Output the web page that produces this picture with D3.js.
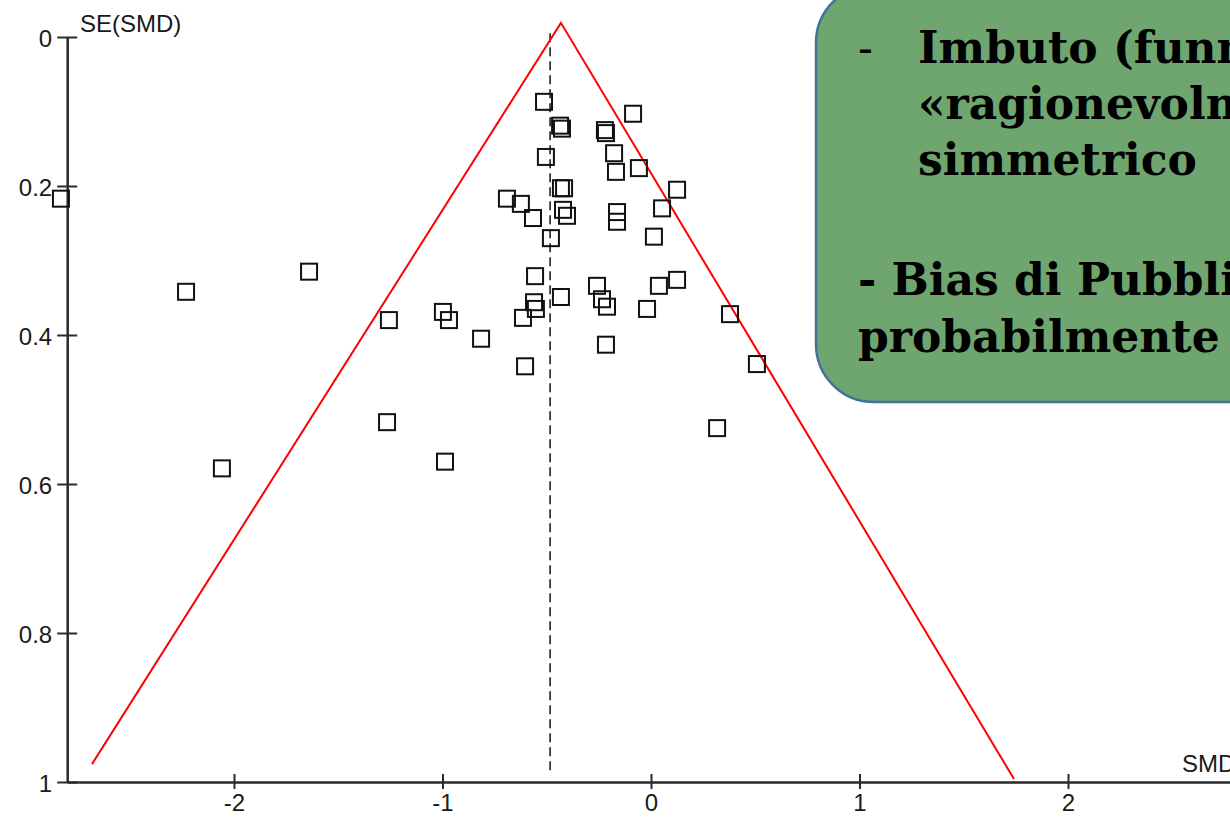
<!DOCTYPE html>
<html>
<head>
<meta charset="utf-8">
<script src="https://cdn.jsdelivr.net/npm/d3@7"></script>
<style>
  html, body { margin: 0; padding: 0; background: #fff; overflow: hidden; }
  svg { display: block; }
</style>
</head>
<body>
<div id="my_dataviz"></div>
<script>
// Studies: standardized mean difference and its standard error
var smd = [-2.830, -2.230, -1.640, -1.257, -0.998, -0.969, -0.815, -1.266, -0.988, -2.058,
           -0.513, -0.436, -0.427, -0.504, -0.432, -0.417, -0.691, -0.624, -0.566, -0.422,
           -0.403, -0.480, -0.086, -0.221, -0.216, -0.177, -0.168, -0.058, 0.125, 0.053,
           -0.163, -0.163, 0.014, -0.556, -0.432, -0.561, -0.552, -0.614, -0.259, -0.235,
           -0.211, -0.019, 0.038, 0.125, 0.379, -0.216, -0.604, 0.508, 0.317];
var se  = [0.217, 0.342, 0.315, 0.380, 0.369, 0.380, 0.405, 0.517, 0.570, 0.579,
           0.087, 0.119, 0.123, 0.161, 0.203, 0.203, 0.217, 0.224, 0.243, 0.232,
           0.240, 0.270, 0.103, 0.125, 0.129, 0.156, 0.181, 0.176, 0.205, 0.230,
           0.235, 0.248, 0.268, 0.321, 0.349, 0.356, 0.365, 0.377, 0.334, 0.352,
           0.362, 0.365, 0.334, 0.326, 0.372, 0.413, 0.442, 0.439, 0.525];

// pooled estimate (dashed line) and the hand-drawn funnel
var pooled = -0.484;
var funnelX = [-2.681, -0.432, 1.741];
var funnelY = [0.976, -0.019, 0.996];

var xTicks = [-2, -1, 0, 1, 2];
var yTicks = [0, 0.2, 0.4, 0.6, 0.8, 1];

var noteLines = ["Imbuto (funnel)", "«ragionevolmente»", "simmetrico"];
var noteLines2 = ["- Bias di Pubblicazione", "probabilmente assente"];

var width = 1230, height = 817;

var svg = d3.select("#my_dataviz")
  .append("svg")
    .attr("width", width)
    .attr("height", height);

var x = d3.scaleLinear().domain([-2.8, 2.8]).range([67.2, 1234.8]);
var y = d3.scaleLinear().domain([0, 1]).range([37, 782]);

var axisColor = "#2a2a2a";
var labelFont = "'Liberation Sans', Arial, sans-serif";

// X axis (at SE = 1)
var gx = svg.append("g")
  .attr("transform", "translate(0," + y(1) + ")")
  .call(d3.axisBottom(x).tickValues(xTicks).tickFormat(function(d) { return String(d); })
    .tickSizeInner(7).tickSizeOuter(0).tickPadding(5));
gx.select(".domain").attr("stroke", axisColor).attr("stroke-width", 2.5);
gx.selectAll(".tick line").attr("y1", -8).attr("stroke", axisColor).attr("stroke-width", 2);
gx.selectAll(".tick text")
  .style("font-family", labelFont).style("font-size", "24px").attr("fill", "#1a1a1a");

// Y axis
var gy = svg.append("g")
  .attr("transform", "translate(" + x(-2.8) + ",0)")
  .call(d3.axisLeft(y).tickValues(yTicks).tickFormat(function(d) { return String(d); })
    .tickSizeInner(10).tickSizeOuter(0).tickPadding(5));
gy.select(".domain").attr("stroke", axisColor).attr("stroke-width", 2.5);
gy.selectAll(".tick line").attr("x1", 10).attr("stroke", axisColor).attr("stroke-width", 2);
gy.selectAll(".tick text")
  .attr("dy", "0.4em")
  .style("font-family", labelFont).style("font-size", "24px").attr("fill", "#1a1a1a");

// axis titles
svg.append("text")
  .attr("x", 80).attr("y", 32)
  .style("font-family", labelFont).style("font-size", "24px").attr("fill", "#1a1a1a")
  .text("SE(SMD)");
svg.append("text")
  .attr("x", 1182).attr("y", 772)
  .style("font-family", labelFont).style("font-size", "24px").attr("fill", "#1a1a1a")
  .text("SMD");

// dashed line at the pooled estimate
svg.append("line")
  .attr("x1", x(pooled)).attr("x2", x(pooled))
  .attr("y1", y(-0.005)).attr("y2", y(0.99))
  .attr("stroke", "#111").attr("stroke-width", 1.5)
  .attr("stroke-dasharray", "9,5");

// red funnel
var funnel = d3.line()
  .x(function(d) { return x(d[0]); })
  .y(function(d) { return y(d[1]); });
svg.append("path")
  .datum(d3.zip(funnelX, funnelY))
  .attr("d", funnel)
  .attr("fill", "none")
  .attr("stroke", "#ff0000")
  .attr("stroke-width", 2);

// studies as open squares
var sq = 16;
svg.append("g")
  .selectAll("rect")
  .data(d3.zip(smd, se))
  .enter().append("rect")
    .attr("x", function(d) { return x(d[0]) - sq / 2; })
    .attr("y", function(d) { return y(d[1]) - sq / 2; })
    .attr("width", sq)
    .attr("height", sq)
    .attr("fill", "none")
    .attr("stroke", "#111")
    .attr("stroke-width", 2);

// green note box
svg.append("rect")
  .attr("x", 816).attr("y", -15)
  .attr("width", 480).attr("height", 417)
  .attr("rx", 58).attr("ry", 58)
  .attr("fill", "#6fa66f")
  .attr("stroke", "#41719c")
  .attr("stroke-width", 2.5);

var serif = "'DejaVu Serif', 'Liberation Serif', serif";

svg.append("text")
  .attr("x", 858).attr("y", 63)
  .style("font-family", serif).style("font-size", "44px").attr("fill", "#000")
  .text("-");

svg.append("g")
  .selectAll("text")
  .data(noteLines)
  .enter().append("text")
    .attr("x", 918)
    .attr("y", function(d, i) { return 63 + i * 56; })
    .style("font-family", serif).style("font-size", "44px").style("font-weight", "bold")
    .attr("fill", "#000")
    .text(function(d) { return d; });

svg.append("g")
  .selectAll("text")
  .data(noteLines2)
  .enter().append("text")
    .attr("x", 858)
    .attr("y", function(d, i) { return 295 + i * 57; })
    .style("font-family", serif).style("font-size", "44px").style("font-weight", "bold")
    .attr("fill", "#000")
    .text(function(d) { return d; });
</script>
</body>
</html>
